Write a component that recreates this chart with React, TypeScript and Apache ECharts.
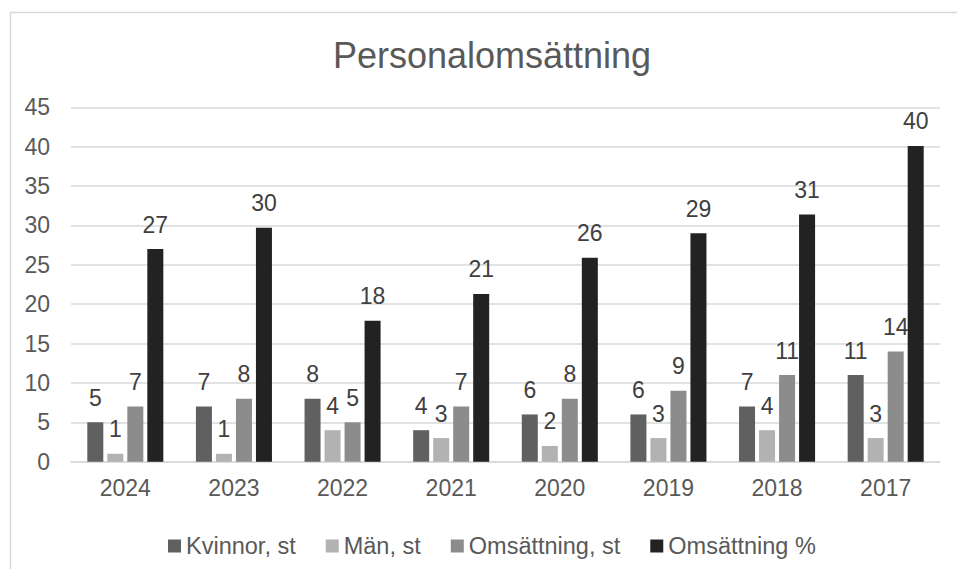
import React, { useEffect, useRef } from "react";
import * as echarts from "echarts";

const categories = ["2024", "2023", "2022", "2021", "2020", "2019", "2018", "2017"];
const kvinnor = [5, 7, 8, 4, 6, 6, 7, 11];
const man = [1, 1, 4, 3, 2, 3, 4, 3];
const omsattningSt = [7, 8, 5, 7, 8, 9, 11, 14];
const omsattningPct = [27, 29.7, 17.9, 21.3, 25.9, 29, 31.4, 40.1];

const seriesNames = ["Kvinnor, st", "Män, st", "Omsättning, st", "Omsättning %"];
const seriesColors = ["#606060", "#b2b2b2", "#8c8c8c", "#222222"];

const FONT = "'Liberation Sans', Arial, sans-serif";

export default function App() {
  const ref = useRef<HTMLDivElement>(null);
  useEffect(() => {
    if (!ref.current) return;
    const chart = echarts.init(ref.current, undefined, { renderer: "svg" });
    const data = [kvinnor, man, omsattningSt, omsattningPct];
    chart.setOption({
      animation: false,
      backgroundColor: "#ffffff",
      textStyle: { fontFamily: FONT },
      title: {
        text: "Personalomsättning",
        left: 487,
        textAlign: "center",
        top: 32,
        textStyle: { fontFamily: FONT, fontSize: 36, fontWeight: "normal", color: "#595959" },
      },
      graphic: [
        {
          type: "rect",
          z: -10,
          shape: { x: 10.5, y: 12.5, width: 1000, height: 1000 },
          style: { fill: "none", stroke: "#d9d9d9", lineWidth: 1.5 },
        },
      ],
      legend: {
        left: 168,
        top: 534,
        padding: 0,
        itemWidth: 13,
        itemHeight: 13,
        itemGap: 30,
        icon: "rect",
        textStyle: { fontFamily: FONT, fontSize: 23.5, color: "#595959" },
        data: seriesNames,
      },
      grid: { left: 71, right: 17, top: 107.3, bottom: 107.3, containLabel: false },
      xAxis: {
        type: "category",
        data: categories,
        axisTick: { show: false },
        axisLine: { lineStyle: { color: "#d9d9d9", width: 1.5 } },
        axisLabel: { fontFamily: FONT, fontSize: 23, color: "#595959", margin: 15 },
      },
      yAxis: {
        type: "value",
        min: 0,
        max: 45,
        interval: 5,
        axisLine: { show: false },
        axisTick: { show: false },
        splitLine: { lineStyle: { color: "#d9d9d9", width: 1.5 } },
        axisLabel: { fontFamily: FONT, fontSize: 23, color: "#595959", margin: 21 },
      },
      series: seriesNames.map((name, i) => ({
        name,
        type: "bar",
        data: data[i],
        barGap: "25%",
        barCategoryGap: "30%",
        itemStyle: { color: seriesColors[i] },
        label: {
          show: true,
          position: "top",
          distance: 13,
          fontFamily: FONT,
          fontSize: 23,
          color: "#404040",
          formatter: (p: any) => String(Math.round(p.value)),
        },
      })),
    });
    return () => chart.dispose();
  }, []);
  return (
    <div
      ref={ref}
      style={{ position: "absolute", left: 0, top: 0, width: 957, height: 569 }}
    />
  );
}
